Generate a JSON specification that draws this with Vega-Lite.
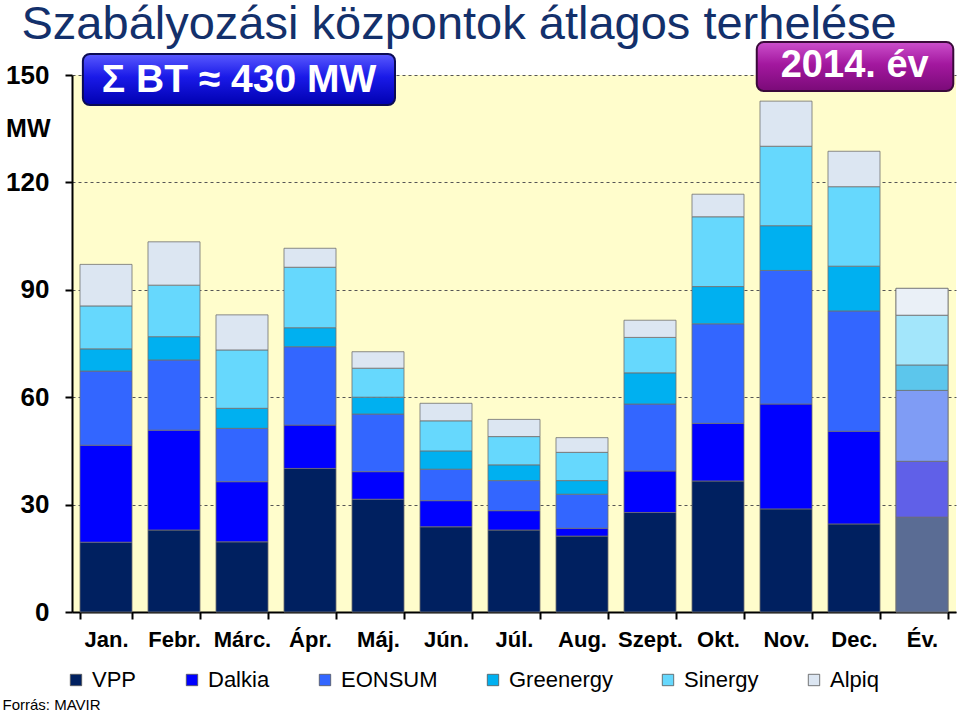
{
  "$schema": "https://vega.github.io/schema/vega-lite/v6.json",
  "width": 884,
  "height": 537,
  "autosize": {"type": "none"},
  "padding": {"left": 72, "top": 75, "right": 4, "bottom": 101},
  "background": "white",
  "config": {
    "font": "Liberation Sans",
    "view": {"fill": "#FFFDCC", "stroke": null}
  },
  "datasets": {
    "rend": [
      {"ceg": "VPP", "sorrend": 1}, {"ceg": "Dalkia", "sorrend": 2}, {"ceg": "EONSUM", "sorrend": 3},
      {"ceg": "Greenergy", "sorrend": 4}, {"ceg": "Sinergy", "sorrend": 5}, {"ceg": "Alpiq", "sorrend": 6}
    ]
  },
  "data": {
    "values": [
      {"honap": "Jan.", "ceg": "VPP", "mw": 19.5}, {"honap": "Jan.", "ceg": "Dalkia", "mw": 27.1}, {"honap": "Jan.", "ceg": "EONSUM", "mw": 20.7}, {"honap": "Jan.", "ceg": "Greenergy", "mw": 6.2}, {"honap": "Jan.", "ceg": "Sinergy", "mw": 12.0}, {"honap": "Jan.", "ceg": "Alpiq", "mw": 11.6},
      {"honap": "Febr.", "ceg": "VPP", "mw": 22.9}, {"honap": "Febr.", "ceg": "Dalkia", "mw": 27.9}, {"honap": "Febr.", "ceg": "EONSUM", "mw": 19.6}, {"honap": "Febr.", "ceg": "Greenergy", "mw": 6.5}, {"honap": "Febr.", "ceg": "Sinergy", "mw": 14.4}, {"honap": "Febr.", "ceg": "Alpiq", "mw": 12.1},
      {"honap": "Márc.", "ceg": "VPP", "mw": 19.6}, {"honap": "Márc.", "ceg": "Dalkia", "mw": 16.8}, {"honap": "Márc.", "ceg": "EONSUM", "mw": 14.9}, {"honap": "Márc.", "ceg": "Greenergy", "mw": 5.6}, {"honap": "Márc.", "ceg": "Sinergy", "mw": 16.3}, {"honap": "Márc.", "ceg": "Alpiq", "mw": 9.8},
      {"honap": "Ápr.", "ceg": "VPP", "mw": 40.1}, {"honap": "Ápr.", "ceg": "Dalkia", "mw": 12.1}, {"honap": "Ápr.", "ceg": "EONSUM", "mw": 21.9}, {"honap": "Ápr.", "ceg": "Greenergy", "mw": 5.3}, {"honap": "Ápr.", "ceg": "Sinergy", "mw": 16.9}, {"honap": "Ápr.", "ceg": "Alpiq", "mw": 5.3},
      {"honap": "Máj.", "ceg": "VPP", "mw": 31.5}, {"honap": "Máj.", "ceg": "Dalkia", "mw": 7.7}, {"honap": "Máj.", "ceg": "EONSUM", "mw": 16.1}, {"honap": "Máj.", "ceg": "Greenergy", "mw": 4.7}, {"honap": "Máj.", "ceg": "Sinergy", "mw": 8.1}, {"honap": "Máj.", "ceg": "Alpiq", "mw": 4.6},
      {"honap": "Jún.", "ceg": "VPP", "mw": 23.8}, {"honap": "Jún.", "ceg": "Dalkia", "mw": 7.3}, {"honap": "Jún.", "ceg": "EONSUM", "mw": 8.8}, {"honap": "Jún.", "ceg": "Greenergy", "mw": 5.1}, {"honap": "Jún.", "ceg": "Sinergy", "mw": 8.4}, {"honap": "Jún.", "ceg": "Alpiq", "mw": 4.9},
      {"honap": "Júl.", "ceg": "VPP", "mw": 22.9}, {"honap": "Júl.", "ceg": "Dalkia", "mw": 5.4}, {"honap": "Júl.", "ceg": "EONSUM", "mw": 8.4}, {"honap": "Júl.", "ceg": "Greenergy", "mw": 4.4}, {"honap": "Júl.", "ceg": "Sinergy", "mw": 7.9}, {"honap": "Júl.", "ceg": "Alpiq", "mw": 4.8},
      {"honap": "Aug.", "ceg": "VPP", "mw": 21.2}, {"honap": "Aug.", "ceg": "Dalkia", "mw": 2.2}, {"honap": "Aug.", "ceg": "EONSUM", "mw": 9.5}, {"honap": "Aug.", "ceg": "Greenergy", "mw": 3.8}, {"honap": "Aug.", "ceg": "Sinergy", "mw": 7.9}, {"honap": "Aug.", "ceg": "Alpiq", "mw": 4.1},
      {"honap": "Szept.", "ceg": "VPP", "mw": 27.8}, {"honap": "Szept.", "ceg": "Dalkia", "mw": 11.6}, {"honap": "Szept.", "ceg": "EONSUM", "mw": 18.7}, {"honap": "Szept.", "ceg": "Greenergy", "mw": 8.7}, {"honap": "Szept.", "ceg": "Sinergy", "mw": 9.9}, {"honap": "Szept.", "ceg": "Alpiq", "mw": 4.8},
      {"honap": "Okt.", "ceg": "VPP", "mw": 36.6}, {"honap": "Okt.", "ceg": "Dalkia", "mw": 16.1}, {"honap": "Okt.", "ceg": "EONSUM", "mw": 27.8}, {"honap": "Okt.", "ceg": "Greenergy", "mw": 10.4}, {"honap": "Okt.", "ceg": "Sinergy", "mw": 19.5}, {"honap": "Okt.", "ceg": "Alpiq", "mw": 6.3},
      {"honap": "Nov.", "ceg": "VPP", "mw": 28.8}, {"honap": "Nov.", "ceg": "Dalkia", "mw": 29.3}, {"honap": "Nov.", "ceg": "EONSUM", "mw": 37.3}, {"honap": "Nov.", "ceg": "Greenergy", "mw": 12.5}, {"honap": "Nov.", "ceg": "Sinergy", "mw": 22.2}, {"honap": "Nov.", "ceg": "Alpiq", "mw": 12.6},
      {"honap": "Dec.", "ceg": "VPP", "mw": 24.6}, {"honap": "Dec.", "ceg": "Dalkia", "mw": 25.9}, {"honap": "Dec.", "ceg": "EONSUM", "mw": 33.6}, {"honap": "Dec.", "ceg": "Greenergy", "mw": 12.5}, {"honap": "Dec.", "ceg": "Sinergy", "mw": 22.2}, {"honap": "Dec.", "ceg": "Alpiq", "mw": 9.9},
      {"honap": "Év.", "ceg": "VPP", "mw": 26.5}, {"honap": "Év.", "ceg": "Dalkia", "mw": 15.6}, {"honap": "Év.", "ceg": "EONSUM", "mw": 19.8}, {"honap": "Év.", "ceg": "Greenergy", "mw": 7.1}, {"honap": "Év.", "ceg": "Sinergy", "mw": 13.9}, {"honap": "Év.", "ceg": "Alpiq", "mw": 7.5}
    ]
  },
  "resolve": {"scale": {"x": "independent", "color": "independent"}, "axis": {"x": "independent"}},
  "layer": [
    {
      "transform": [{"lookup": "ceg", "from": {"data": {"name": "rend"}, "key": "ceg", "fields": ["sorrend"]}}],
      "mark": {"type": "bar", "stroke": "#707070", "strokeWidth": 0.8},
      "encoding": {
        "x": {
          "field": "honap", "type": "nominal",
          "sort": ["Jan.", "Febr.", "Márc.", "Ápr.", "Máj.", "Jún.", "Júl.", "Aug.", "Szept.", "Okt.", "Nov.", "Dec.", "Év."],
          "scale": {"domain": ["Jan.", "Febr.", "Márc.", "Ápr.", "Máj.", "Jún.", "Júl.", "Aug.", "Szept.", "Okt.", "Nov.", "Dec.", "Év."], "paddingInner": 0.235, "paddingOuter": 0.1175},
          "axis": {
            "title": "Forrás: MAVIR", "titleX": -70, "titleY": 97, "titleAlign": "left", "titleAnchor": null, "titleBaseline": "alphabetic",
            "titleFontSize": 15, "titleFontWeight": "normal", "titleColor": "black",
            "labelAngle": 0, "labelFontSize": 22, "labelFontWeight": "bold", "labelColor": "black", "labelPadding": 10,
            "tickBand": "extent", "tickSize": 7, "tickColor": "black", "tickWidth": 2,
            "domainColor": "black", "domainWidth": 2, "grid": false
          }
        },
        "y": {
          "field": "mw", "type": "quantitative", "stack": "zero",
          "scale": {"domain": [0, 150], "nice": false},
          "axis": {
            "values": [0, 30, 60, 90, 120, 150], "grid": true, "gridDash": [3, 3], "gridColor": "#555555", "gridWidth": 1,
            "labelFontSize": 26, "labelFontWeight": "bold", "labelColor": "black", "labelPadding": 16,
            "tickSize": 7, "tickColor": "black", "tickWidth": 2, "domainColor": "black", "domainWidth": 2,
            "title": "MW", "titleAngle": 0, "titleX": -22, "titleY": 53, "titleAlign": "right", "titleBaseline": "middle",
            "titleFontSize": 25, "titleFontWeight": "bold", "titleColor": "black"
          }
        },
        "order": {"field": "sorrend", "type": "quantitative", "sort": "ascending"},
        "color": {
          "field": "ceg", "type": "nominal",
          "sort": ["VPP", "Dalkia", "EONSUM", "Greenergy", "Sinergy", "Alpiq"],
          "scale": {"domain": ["VPP", "Dalkia", "EONSUM", "Greenergy", "Sinergy", "Alpiq"], "range": ["#002060", "#0000FF", "#3366FF", "#00B0F0", "#66D8FD", "#DCE6F2"]},
          "legend": {
            "title": null, "orient": "none", "legendX": -7, "legendY": 594, "direction": "horizontal", "columns": 6, "columnPadding": 44,
            "symbolType": "square", "symbolSize": 130, "symbolStrokeColor": "#555555", "symbolStrokeWidth": 0.8,
            "labelFontSize": 22, "labelColor": "black", "labelOffset": 5, "labelLimit": 200
          }
        }
      }
    },
    {
      "transform": [
        {"filter": "datum.honap === 'Év.'"},
        {"lookup": "ceg", "from": {"data": {"name": "rend"}, "key": "ceg", "fields": ["sorrend"]}}
      ],
      "mark": {"type": "bar", "stroke": "#707070", "strokeWidth": 0.8},
      "encoding": {
        "x": {
          "field": "honap", "type": "nominal",
          "sort": ["Jan.", "Febr.", "Márc.", "Ápr.", "Máj.", "Jún.", "Júl.", "Aug.", "Szept.", "Okt.", "Nov.", "Dec.", "Év."],
          "scale": {"domain": ["Jan.", "Febr.", "Márc.", "Ápr.", "Máj.", "Jún.", "Júl.", "Aug.", "Szept.", "Okt.", "Nov.", "Dec.", "Év."], "paddingInner": 0.235, "paddingOuter": 0.1175},
          "axis": null
        },
        "y": {"field": "mw", "type": "quantitative", "stack": "zero", "scale": {"domain": [0, 150], "nice": false}},
        "order": {"field": "sorrend", "type": "quantitative", "sort": "ascending"},
        "color": {
          "field": "ceg", "type": "nominal",
          "sort": ["VPP", "Dalkia", "EONSUM", "Greenergy", "Sinergy", "Alpiq"],
          "scale": {"domain": ["VPP", "Dalkia", "EONSUM", "Greenergy", "Sinergy", "Alpiq"], "range": ["#5A6C94", "#6060E8", "#7F9CF5", "#5CC6EC", "#A3E6FB", "#EAF0F7"]},
          "legend": null
        }
      }
    },
    {
      "data": {"values": [{}]},
      "mark": {"type": "rect", "cornerRadius": 7, "stroke": "#0B0B55", "strokeWidth": 2,
        "fill": {"gradient": "linear", "x1": 0, "y1": 0, "x2": 0, "y2": 1, "stops": [{"offset": 0, "color": "#5A5AFF"}, {"offset": 0.45, "color": "#1A1AE8"}, {"offset": 1, "color": "#0000B0"}]}},
      "encoding": {
        "x": {"datum": 0.16, "type": "quantitative", "scale": {"domain": [0, 13]},
          "axis": {
            "orient": "top", "labels": false, "ticks": false, "domain": false, "grid": false,
            "title": "Szabályozási központok átlagos terhelése",
            "titleX": -51, "titleY": -37, "titleAlign": "left", "titleAnchor": null, "titleBaseline": "alphabetic",
            "titleFontSize": 47, "titleFontWeight": "normal", "titleColor": "#13306B", "titleLimit": 950
          }
        },
        "x2": {"datum": 4.75},
        "y": {"datum": 155.9, "type": "quantitative", "scale": {"domain": [0, 150], "nice": false}},
        "y2": {"datum": 141.6}
      }
    },
    {
      "data": {"values": [{}]},
      "mark": {"type": "text", "fontSize": 39, "fontWeight": "bold", "fill": "white", "align": "center", "baseline": "middle", "text": "Σ BT ≈ 430 MW"},
      "encoding": {
        "x": {"datum": 2.456, "type": "quantitative", "scale": {"domain": [0, 13]}, "axis": null},
        "y": {"datum": 148.7, "type": "quantitative", "scale": {"domain": [0, 150], "nice": false}}
      }
    },
    {
      "data": {"values": [{}]},
      "mark": {"type": "rect", "cornerRadius": 7, "stroke": "#3A0A3A", "strokeWidth": 2,
        "fill": {"gradient": "linear", "x1": 0, "y1": 0, "x2": 0, "y2": 1, "stops": [{"offset": 0, "color": "#CC4FCC"}, {"offset": 0.45, "color": "#A3189F"}, {"offset": 1, "color": "#7A0A78"}]}},
      "encoding": {
        "x": {"datum": 10.07, "type": "quantitative", "scale": {"domain": [0, 13]}, "axis": null},
        "x2": {"datum": 12.96},
        "y": {"datum": 159.2, "type": "quantitative", "scale": {"domain": [0, 150], "nice": false}},
        "y2": {"datum": 145.5}
      }
    },
    {
      "data": {"values": [{}]},
      "mark": {"type": "text", "fontSize": 38, "fontWeight": "bold", "fill": "white", "align": "center", "baseline": "middle", "text": "2014. év"},
      "encoding": {
        "x": {"datum": 11.51, "type": "quantitative", "scale": {"domain": [0, 13]}, "axis": null},
        "y": {"datum": 152.4, "type": "quantitative", "scale": {"domain": [0, 150], "nice": false}}
      }
    }
  ]
}
